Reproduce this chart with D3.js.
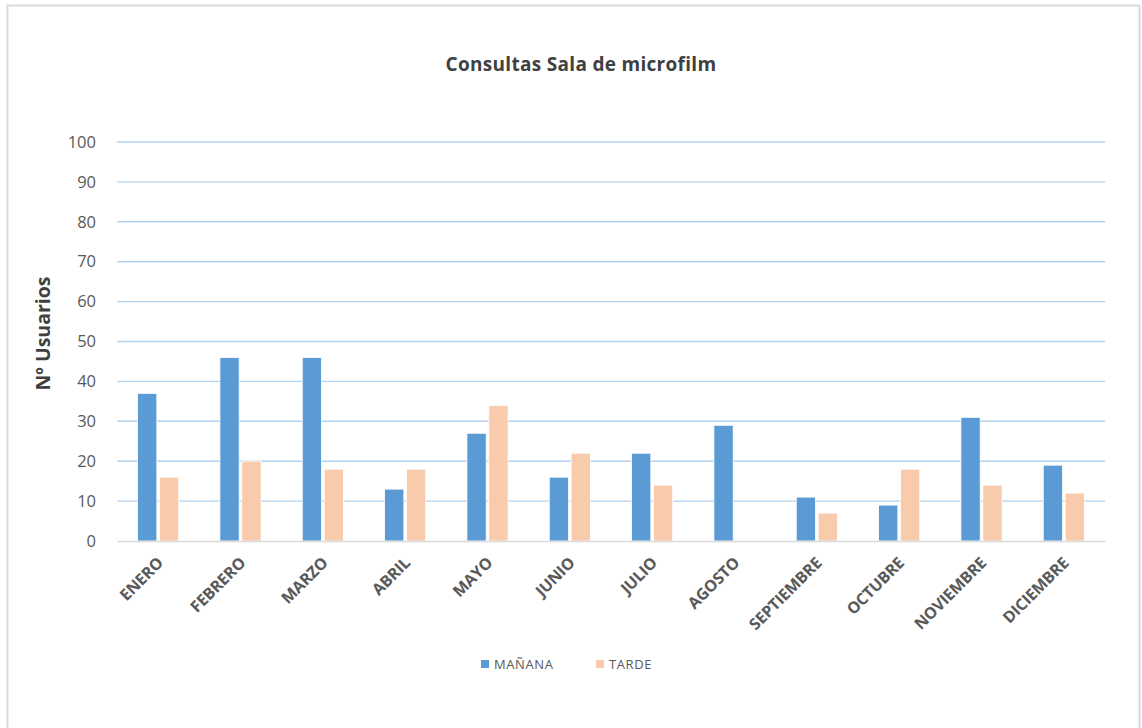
<!DOCTYPE html>
<html>
<head>
<meta charset="utf-8">
<script src="https://cdn.jsdelivr.net/npm/d3@7"></script>
<style>
  body { margin: 0; background: #fff; }
  text { font-family: 'Open Sans', 'Noto Sans', sans-serif; }
</style>
</head>
<body>
<svg id="chart"></svg>
<script>
const months = ['ENERO', 'FEBRERO', 'MARZO', 'ABRIL', 'MAYO', 'JUNIO', 'JULIO',
  'AGOSTO', 'SEPTIEMBRE', 'OCTUBRE', 'NOVIEMBRE', 'DICIEMBRE'];
const seriesNames = ['MAÑANA', 'TARDE'];
const manana = [37, 46, 46, 13, 27, 16, 22, 29, 11, 9, 31, 19];
const tarde = [16, 20, 18, 18, 34, 22, 14, 0, 7, 18, 14, 12];
const yTicks = [0, 10, 20, 30, 40, 50, 60, 70, 80, 90, 100];
const colors = ['#5B9BD5', '#F8CBAD'];

const width = 1142, height = 728;
const plot = { left: 117, right: 1105, top: 142, bottom: 541 };

const svg = d3.select('#chart').attr('width', width).attr('height', height);

// chart frame
svg.append('rect')
  .attr('x', 7.5).attr('y', 5.5)
  .attr('width', 1132).attr('height', 740)
  .attr('fill', '#fff')
  .attr('stroke', '#D9D9D9')
  .attr('stroke-width', 2);

const x = d3.scaleBand().domain(months).range([plot.left, plot.right]).paddingInner(0).paddingOuter(0);
const xSeries = d3.scaleBand().domain(seriesNames).range([x.bandwidth() * 0.25, x.bandwidth() * 0.75]).paddingInner(0.12);
const y = d3.scaleLinear().domain([0, 100]).range([plot.bottom, plot.top]);

// gridlines
svg.append('g')
  .selectAll('line')
  .data(yTicks.slice(1))
  .enter()
  .append('line')
  .attr('x1', plot.left).attr('x2', plot.right)
  .attr('y1', d => y(d)).attr('y2', d => y(d))
  .attr('stroke', '#B4D2EE')
  .attr('stroke-width', 1.4);

// y axis tick labels
const yAxis = d3.axisLeft(y).tickValues(yTicks).tickSize(0).tickPadding(21);
const yG = svg.append('g').attr('transform', `translate(${plot.left},0)`).call(yAxis);
yG.select('.domain').remove();
yG.selectAll('text')
  .attr('fill', '#595959')
  .style('font-size', '16.5px')
  .style('font-family', "'Open Sans', sans-serif");

// bars
const data = months.map((m, i) => ({ month: m, values: [manana[i], tarde[i]] }));
const groups = svg.append('g')
  .selectAll('g')
  .data(data)
  .enter()
  .append('g')
  .attr('transform', d => `translate(${x(d.month)},0)`);

groups.selectAll('rect')
  .data(d => d.values.map((v, i) => ({ key: seriesNames[i], value: v, i })))
  .enter()
  .append('rect')
  .attr('x', d => xSeries(d.key))
  .attr('width', xSeries.bandwidth())
  .attr('y', d => y(d.value))
  .attr('height', d => y(0) - y(d.value))
  .attr('fill', d => colors[d.i])
  .attr('stroke', '#fff')
  .attr('stroke-width', 0.8);

// x axis
const xAxis = d3.axisBottom(x).tickSize(0).tickPadding(0);
const xG = svg.append('g').attr('transform', `translate(0,${plot.bottom})`).call(xAxis);
xG.select('.domain').attr('stroke', '#D9D9D9').attr('stroke-width', 1.5);
xG.selectAll('text')
  .attr('fill', '#595959')
  .style('font-size', '16px')
  .style('font-weight', 'bold')
  .style('letter-spacing', '-0.2px')
  .attr('text-anchor', 'end')
  .attr('dy', 0)
  .attr('transform', 'translate(6,23) rotate(-45)');

// title
svg.append('text')
  .attr('x', 581).attr('y', 71)
  .attr('text-anchor', 'middle')
  .attr('fill', '#404040')
  .style('font-size', '19px')
  .style('font-weight', 'bold')
  .style('letter-spacing', '0.3px')
  .text('Consultas Sala de microfilm');

// y axis title
svg.append('text')
  .attr('transform', `translate(50,${(plot.top + plot.bottom) / 2 - 8}) rotate(-90)`)
  .attr('text-anchor', 'middle')
  .attr('fill', '#404040')
  .style('font-size', '19.5px')
  .style('font-weight', 'bold')
  .text('Nº Usuarios');

// legend
const legend = svg.append('g')
  .selectAll('g')
  .data(seriesNames)
  .enter()
  .append('g')
  .attr('transform', (d, i) => `translate(${481 + i * 115},660)`);
legend.append('rect')
  .attr('width', 8).attr('height', 8)
  .attr('fill', (d, i) => colors[i]);
legend.append('text')
  .attr('x', 13).attr('y', 9)
  .attr('fill', '#595959')
  .style('font-size', '13px')
  .style('letter-spacing', '0.6px')
  .text(d => d);
</script>
</body>
</html>
